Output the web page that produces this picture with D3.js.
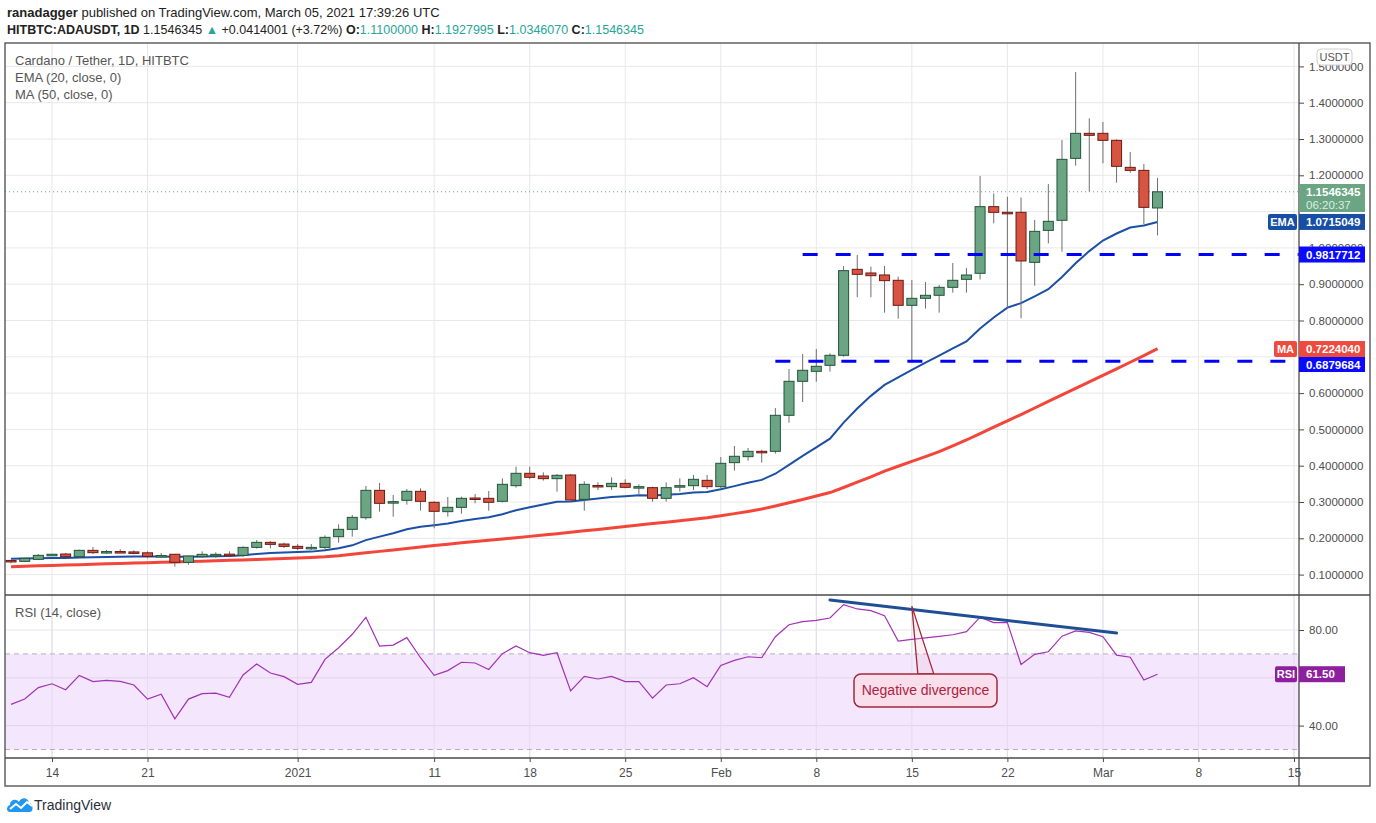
<!DOCTYPE html>
<html>
<head>
<meta charset="utf-8">
<script src="https://cdn.jsdelivr.net/npm/d3@7"></script>
<style>
html, body { margin: 0; padding: 0; background: #fff; }
svg { display: block; font-family: 'Liberation Sans', Arial, sans-serif; }
</style>
</head>
<body>
<svg id="chart"></svg>
<script>
// daily candles, first one is 2020-12-11
const firstDay = Date.UTC(2020, 11, 11);

const opens = [.139,.1365,.142,.154,.1567,.1494,.1668,.1622,.1635,.1625,
	.160,.1515,.156,.1338,.1494,.155,.1563,.153,.175,.1888,
	.1842,.1778,.1745,.175,.2045,.2247,.2568,.3321,.2998,.3046,
	.3294,.2991,.2734,.2853,.311,.3101,.3019,.345,.379,.3716,
	.3643,.3744,.3073,.3455,.3423,.3514,.3414,.3395,.3101,.344,
	.345,.3597,.3423,.4084,.4249,.4396,.4396,.5388,.6325,.66,
	.6765,.7041,.941,.9309,.9254,.9107,.8418,.8611,.8694,.8914,
	.9134,.93,1.1136,1.098,1.098,.9602,1.0483,1.076,1.2467,1.3156,
	1.3156,1.2963,1.2219,1.2136,1.11];
const highs = [.141,.1457,.1567,.157,.1595,.169,.176,.168,.170,.1668,
	.164,.1595,.157,.153,.164,.1613,.164,.1778,.1953,.1925,
	.1879,.1842,.1842,.208,.2384,.2642,.344,.3523,.3193,.3358,
	.3376,.3019,.3138,.3147,.322,.3303,.3652,.3973,.3973,.3817,
	.3771,.3771,.357,.3542,.368,.3625,.3487,.3423,.3542,.3652,
	.3744,.3744,.424,.4543,.4488,.444,.559,.6664,.7077,.7215,
	.7096,.9502,.9805,.9483,.9502,.9208,.9116,.9061,.8978,.9584,
	.9447,1.198,1.150,1.141,1.139,1.077,1.176,1.297,1.4845,1.357,
	1.347,1.2991,1.2642,1.231,1.1928];
const lows = [.131,.1345,.140,.153,.148,.148,.1567,.157,.160,.156,
	.145,.1466,.122,.1273,.146,.146,.1475,.1494,.1714,.1723,
	.1733,.1677,.1677,.1696,.1879,.2045,.2513,.2734,.2596,.2927,
	.2761,.2275,.2596,.2679,.2963,.2761,.2991,.3395,.3625,.359,
	.3285,.3009,.2761,.333,.333,.3377,.322,.3009,.3009,.3285,
	.333,.3358,.3375,.3864,.4139,.4084,.4332,.5186,.5755,.6315,
	.6591,.7004,.8639,.8639,.8216,.8051,.6885,.8326,.8216,.8767,
	.8767,.913,1.0677,.8335,.806,.896,1.0125,.9896,1.2265,1.155,
	1.233,1.1797,1.2072,1.065,1.0346];
const closes = [.138,.1448,.153,.156,.1494,.1668,.1604,.1635,.1625,.160,
	.1503,.1525,.1338,.1512,.1558,.1558,.1553,.175,.1888,.1833,
	.1778,.1723,.175,.2026,.2247,.2577,.3321,.2963,.301,.3294,
	.3019,.2743,.2853,.3101,.3101,.2991,.3487,.379,.368,.3643,
	.3735,.3055,.3487,.345,.3514,.3404,.3423,.3101,.3395,.345,
	.3625,.3423,.4066,.4259,.4396,.4387,.5388,.6325,.6628,.6738,
	.7041,.9373,.9272,.9235,.9098,.8418,.8611,.8694,.8914,.9107,
	.9253,1.1136,1.098,1.097,.964,1.0456,1.0732,1.244,1.3156,1.3101,
	1.2963,1.2247,1.2136,1.1117,1.1546];
const ema20 = [.1440,.1443,.1448,.1454,.1458,.1470,.1478,.1486,.1494,.1500,
	.1500,.1502,.1493,.1495,.1501,.1507,.1511,.1534,.1568,.1593,
	.1610,.1621,.1633,.1670,.1725,.1806,.1950,.2046,.2138,.2248,
	.2321,.2361,.2408,.2474,.2534,.2578,.2665,.2772,.2858,.2933,
	.3009,.3013,.3058,.3095,.3135,.3161,.3186,.3178,.3199,.3223,
	.3261,.3276,.3351,.3437,.3528,.3610,.3779,.4021,.4269,.4504,
	.4746,.5187,.5576,.5924,.6226,.6435,.6642,.6837,.7035,.7232,
	.7424,.7777,.8082,.8356,.8477,.8665,.8862,.9200,.9577,.9912,
	1.0202,1.0397,1.0563,1.0616,1.0715];
const ma50 = [.1218,.1230,.1241,.1252,.1263,.1274,.1285,.1296,.1307,.1318,
	.1329,.1340,.1350,.1360,.1370,.1381,.1392,.1404,.1416,.1429,
	.1443,.1458,.1474,.1490,.1520,.1560,.1600,.1640,.1680,.1720,
	.1760,.1800,.1838,.1875,.1912,.1948,.1983,.2018,.2053,.2090,
	.2128,.2166,.2205,.2245,.2285,.2325,.2365,.2405,.2445,.2485,
	.2525,.2565,.2620,.2680,.2740,.2805,.2890,.2980,.3070,.3165,
	.3260,.3400,.3545,.3690,.3850,.3985,.4120,.4250,.4387,.4545,
	.4708,.4885,.5060,.5235,.5410,.5590,.5770,.5950,.6130,.6310,
	.6490,.6670,.6850,.7035,.7224];
const rsi14 = [48.9,51.1,55.9,57.5,55.0,61.0,58.4,58.9,58.5,57.0,
	51.1,53.1,42.8,51.1,53.4,53.6,51.8,61.2,65.8,62.0,
	60.5,57.3,58.1,67.7,72.6,78.2,85.3,73.3,73.7,76.8,
	68.4,61.0,63.0,66.5,66.2,63.5,70.1,73.3,70.5,69.4,
	70.5,54.5,60.6,59.5,60.6,58.4,58.4,51.5,57.0,57.5,
	60.0,56.3,65.2,67.3,68.8,68.4,77.2,82.2,83.5,84.0,
	85.0,90.6,88.8,88.1,86.0,75.4,76.1,76.7,77.3,78.0,
	79.3,85.4,83.1,83.1,65.6,69.8,70.9,77.4,79.6,79.0,
	77.2,69.5,68.6,59.1,61.5];

const priceTicks = [0.1,0.2,0.3,0.4,0.5,0.6,0.7,0.8,0.9,1.0,1.1,1.2,1.3,1.4,1.5];
// labels 0.7 and 1.1 sit fully under the value boxes on the original, so they are not printed
const priceLabels = [0.1,0.2,0.3,0.4,0.5,0.6,0.8,0.9,1.0,1.2,1.3,1.4,1.5];
const rsiTicks = [40, 80];
const xTickDates = ["2020-12-14","2020-12-21","2021-01-01","2021-01-11","2021-01-18","2021-01-25",
	"2021-02-01","2021-02-08","2021-02-15","2021-02-22","2021-03-01","2021-03-08","2021-03-15"];
const xTickLabels = ["14","21","2021","11","18","25","Feb","8","15","22","Mar","8","15"];

// horizontal levels drawn on the chart
const levelValues = [0.9817712, 0.6879684];
const levelStarts = ["2021-02-07", "2021-02-05"];
const divergenceDates = ["2021-02-09", "2021-03-02"];
const divergenceRsi = [92.6, 78.7];

const lastPrice = 1.1546345;

const W = 1376, H = 823;
const L = 5, R = 1299, OUTR = 1370;
const mainTop = 43, mainBot = 595, rsiBot = 758, axisBot = 786;

const svg = d3.select('#chart').attr('width', W).attr('height', H);

const x = d3.scaleUtc()
	.domain([new Date("2020-12-14"), new Date("2021-03-15")])
	.range([52, 1294]);
const y = d3.scaleLinear().domain([0.1, 1.4]).range([574.6, 102.7]);
const yr = d3.scaleLinear().domain([30, 80]).range([749.5, 630]);

const days = closes.map((c, i) => new Date(firstDay + i * 864e5));
const candles = days.map((d, i) => ({d: d, o: opens[i], h: highs[i], l: lows[i], c: closes[i]}));

const defs = svg.append('defs');
defs.append('clipPath').attr('id', 'clipMain')
	.append('rect').attr('x', L).attr('y', mainTop).attr('width', R - L).attr('height', mainBot - mainTop);
defs.append('clipPath').attr('id', 'clipRsi')
	.append('rect').attr('x', L).attr('y', mainBot).attr('width', R - L).attr('height', rsiBot - mainBot);

// grid
const grid = svg.append('g');
grid.selectAll('.vg').data(xTickDates).enter().append('line')
	.attr('x1', d => x(new Date(d))).attr('x2', d => x(new Date(d)))
	.attr('y1', mainTop).attr('y2', rsiBot)
	.attr('stroke', '#e8e8e8');
grid.selectAll('.hg').data(priceTicks).enter().append('line')
	.attr('x1', L).attr('x2', R)
	.attr('y1', d => y(d)).attr('y2', d => y(d))
	.attr('stroke', '#e8e8e8');

// rsi background
const rsiG = svg.append('g').attr('clip-path', 'url(#clipRsi)');
rsiG.append('rect').attr('x', L).attr('width', R - L)
	.attr('y', yr(70)).attr('height', yr(30) - yr(70))
	.attr('fill', '#f3e6fd');
rsiG.selectAll('.rg').data([80, 60, 40]).enter().append('line')
	.attr('x1', L).attr('x2', R)
	.attr('y1', d => yr(d)).attr('y2', d => yr(d))
	.attr('stroke', d => d == 80 ? '#e6e6e6' : '#e0d3ea');
rsiG.selectAll('.rvg').data(xTickDates).enter().append('line')
	.attr('x1', d => x(new Date(d))).attr('x2', d => x(new Date(d)))
	.attr('y1', mainBot).attr('y2', rsiBot)
	.attr('stroke', '#e4dcea');
rsiG.selectAll('.band').data([70, 30]).enter().append('line')
	.attr('x1', L).attr('x2', R)
	.attr('y1', d => yr(d)).attr('y2', d => yr(d))
	.attr('stroke', '#b9aebf').attr('stroke-dasharray', '5,4');

// main pane
const main = svg.append('g').attr('clip-path', 'url(#clipMain)');

main.append('line')
	.attr('x1', L).attr('x2', R).attr('y1', y(lastPrice)).attr('y2', y(lastPrice))
	.attr('stroke', '#6ba583').attr('stroke-dasharray', '1,3');

const line = d3.line().x((d, i) => x(days[i])).y(d => y(d));
main.append('path').datum(ma50).attr('d', line)
	.attr('fill', 'none').attr('stroke', '#f23b2f').attr('stroke-width', 3).attr('stroke-opacity', 0.95);
main.append('path').datum(ema20).attr('d', line)
	.attr('fill', 'none').attr('stroke', '#1c4fa6').attr('stroke-width', 2);

const cg = main.selectAll('.candle').data(candles).enter().append('g');
cg.append('line')
	.attr('x1', d => x(d.d)).attr('x2', d => x(d.d))
	.attr('y1', d => y(d.h)).attr('y2', d => y(d.l))
	.attr('stroke', '#6f6f6f').attr('stroke-width', 1);
cg.append('rect')
	.attr('x', d => x(d.d) - 5).attr('width', 10)
	.attr('y', d => y(Math.max(d.o, d.c)))
	.attr('height', d => Math.max(1.5, Math.abs(y(d.o) - y(d.c))))
	.attr('fill', d => d.c >= d.o ? '#6ba583' : '#d75442')
	.attr('stroke', d => d.c >= d.o ? '#225437' : '#6b1a12')
	.attr('stroke-width', 1);

main.selectAll('.level').data(levelValues).enter().append('line')
	.attr('x1', (d, i) => x(new Date(levelStarts[i]))).attr('x2', R)
	.attr('y1', d => y(d)).attr('y2', d => y(d))
	.attr('stroke', '#0000ff').attr('stroke-width', 3).attr('stroke-dasharray', '15,18');

// rsi line
rsiG.append('path').datum(rsi14)
	.attr('d', d3.line().x((d, i) => x(days[i])).y(d => yr(d)))
	.attr('fill', 'none').attr('stroke', '#a232b5').attr('stroke-width', 1.2);

rsiG.append('line')
	.attr('x1', x(new Date(divergenceDates[0]))).attr('y1', yr(divergenceRsi[0]))
	.attr('x2', x(new Date(divergenceDates[1]))).attr('y2', yr(divergenceRsi[1]))
	.attr('stroke', '#1f4e94').attr('stroke-width', 3).attr('stroke-linecap', 'round');

// callout
const tipX = x(new Date("2021-02-15")), tipY = yr(90);
const call = svg.append('g');
call.append('path')
	.attr('d', `M${tipX},${tipY} L${tipX + 6},674 L${tipX + 22},674 Z`)
	.attr('fill', 'rgba(240,190,210,0.25)').attr('stroke', '#a3283c').attr('stroke-width', 1.3);
call.append('rect')
	.attr('x', 854).attr('y', 674).attr('width', 143).attr('height', 33).attr('rx', 7)
	.attr('fill', '#f8dfeb').attr('stroke', '#a3283c').attr('stroke-width', 1.5);
call.append('text').attr('x', 925.5).attr('y', 695)
	.attr('text-anchor', 'middle').attr('font-size', 14).attr('fill', '#b0213f')
	.text('Negative divergence');

// frame
const frame = svg.append('g').attr('fill', 'none').attr('stroke', '#4a4a4a').attr('stroke-width', 1.3);
frame.append('rect').attr('x', L).attr('y', mainTop).attr('width', OUTR - L).attr('height', axisBot - mainTop);
frame.append('line').attr('x1', L).attr('x2', OUTR).attr('y1', mainBot).attr('y2', mainBot);
frame.append('line').attr('x1', L).attr('x2', OUTR).attr('y1', rsiBot).attr('y2', rsiBot);
frame.append('line').attr('x1', R).attr('x2', R).attr('y1', mainTop).attr('y2', axisBot);

// axes
const yAxis = d3.axisRight(y).tickValues(priceLabels).tickFormat(d3.format('.7f')).tickSize(5).tickPadding(5);
const yAxisG = svg.append('g').attr('transform', `translate(${R},0)`).call(yAxis);
const rAxis = d3.axisRight(yr).tickValues(rsiTicks).tickFormat(d3.format('.2f')).tickSize(5).tickPadding(5);
const rAxisG = svg.append('g').attr('transform', `translate(${R},0)`).call(rAxis);
const xAxis = d3.axisBottom(x).tickValues(xTickDates.map(d => new Date(d)))
	.tickFormat((d, i) => xTickLabels[i]).tickSize(4).tickPadding(6);
const xAxisG = svg.append('g').attr('transform', `translate(0,${rsiBot})`).call(xAxis);
[yAxisG, rAxisG, xAxisG].forEach(g => {
	g.select('.domain').remove();
	g.selectAll('.tick line').attr('stroke', '#4a4a4a');
	g.selectAll('.tick text').attr('fill', '#4d4d4d').attr('font-size', 11.5)
		.attr('font-family', "'Liberation Sans', Arial, sans-serif");
});
xAxisG.selectAll('.tick text').attr('font-size', 12);

// usdt badge
svg.append('rect').attr('x', 1317).attr('y', 49).attr('width', 35).attr('height', 16).attr('rx', 4)
	.attr('fill', '#fff').attr('stroke', '#cfcfcf');
svg.append('text').attr('x', 1334.5).attr('y', 61).attr('text-anchor', 'middle')
	.attr('font-size', 11).attr('fill', '#555').text('USDT');

function valueBox(cy, h, w, bg, txt) {
	svg.append('rect').attr('x', R).attr('y', cy - h / 2).attr('width', w).attr('height', h).attr('fill', bg);
	svg.append('text').attr('x', R + 7).attr('y', cy + 4)
		.attr('font-size', 11.5).attr('font-weight', 'bold').attr('fill', '#fff').text(txt);
}
function nameTag(cy, x0, w, bg, txt) {
	svg.append('rect').attr('x', x0).attr('y', cy - 8).attr('width', w).attr('height', 16).attr('rx', 2).attr('fill', bg);
	svg.append('text').attr('x', x0 + w / 2).attr('y', cy + 4).attr('text-anchor', 'middle')
		.attr('font-size', 11).attr('font-weight', 'bold').attr('fill', '#fff').text(txt);
}

// last price box
svg.append('rect').attr('x', R).attr('y', 184).attr('width', 66).attr('height', 28).attr('fill', '#6ba583');
svg.append('text').attr('x', R + 7).attr('y', 196).attr('font-size', 11.5).attr('font-weight', 'bold')
	.attr('fill', '#fff').text('1.1546345');
svg.append('text').attr('x', R + 7).attr('y', 209).attr('font-size', 11.5)
	.attr('fill', '#dcefe3').text('06:20:37');

valueBox(y(ema20[ema20.length - 1]), 16, 66, '#174ea6', '1.0715049');
nameTag(y(ema20[ema20.length - 1]), 1268, 29, '#174ea6', 'EMA');
valueBox(y(levelValues[0]), 16, 66, '#0a0aff', '0.9817712');
valueBox(349, 16, 66, '#ef4a3e', '0.7224040');
nameTag(349, 1274, 23, '#ef4a3e', 'MA');
valueBox(364.5, 15, 66, '#0a0aff', '0.6879684');
valueBox(yr(rsi14[rsi14.length - 1]), 16, 46, '#8e1f9e', '61.50');
nameTag(yr(rsi14[rsi14.length - 1]), 1275, 22, '#8e1f9e', 'RSI');

// header
const h1 = svg.append('text').attr('x', 7).attr('y', 17).attr('font-size', 13).attr('fill', '#222');
h1.append('tspan').attr('font-weight', 'bold').text('ranadagger');
h1.append('tspan').text(' published on TradingView.com, March 05, 2021 17:39:26 UTC');

const teal = '#26a69a';
const h2 = svg.append('text').attr('x', 7).attr('y', 34).attr('font-size', 12.5).attr('fill', '#222');
h2.append('tspan').attr('font-weight', 'bold').text('HITBTC:ADAUSDT, 1D');
h2.append('tspan').text(' 1.1546345 ');
h2.append('tspan').attr('fill', teal).text('▲');
h2.append('tspan').text(' +0.0414001 (+3.72%) ');
[['O:', '1.1100000'], [' H:', '1.1927995'], [' L:', '1.0346070'], [' C:', '1.1546345']].forEach(p => {
	h2.append('tspan').attr('font-weight', 'bold').text(p[0]);
	h2.append('tspan').attr('fill', teal).text(p[1]);
});

const legend = [['Cardano / Tether, 1D, HITBTC', 65], ['EMA (20, close, 0)', 82],
	['MA (50, close, 0)', 99], ['RSI (14, close)', 617]];
legend.forEach(l => {
	svg.append('text').attr('x', 15).attr('y', l[1]).attr('font-size', 13).attr('fill', '#555').text(l[0]);
});

// tradingview logo
const logo = svg.append('g').attr('transform', 'translate(7,795)');
logo.append('path')
	.attr('d', 'M3,17 C-1,17 -1,11 3,10 C3,5 9,3 12,7 C14,2 21,2 22,8 C26,8 27,17 23,17 Z')
	.attr('fill', '#2196f3');
logo.append('polyline').attr('points', '3,14 9,9 14,13 20,7 25,11')
	.attr('fill', 'none').attr('stroke', '#fff').attr('stroke-width', 2);
svg.append('text').attr('x', 34).attr('y', 810).attr('font-size', 14).attr('fill', '#2a2e39').text('TradingView');
</script>
</body>
</html>
